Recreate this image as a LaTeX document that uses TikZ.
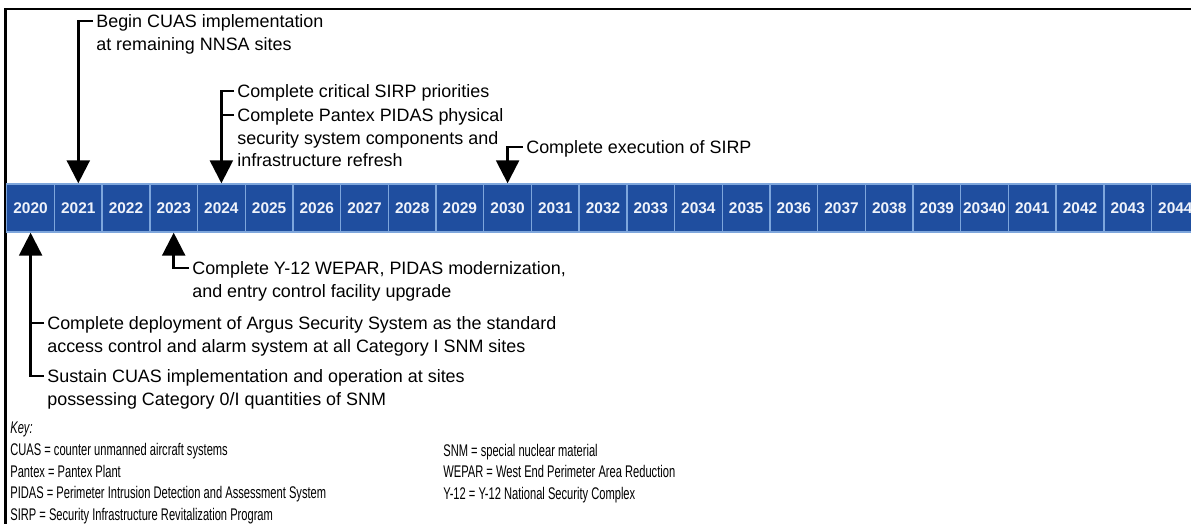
\documentclass[tikz,border=0pt]{standalone}
\usepackage{fontspec}
\setmainfont{Liberation Sans}
\newfontfamily\keyfont[FakeStretch=0.66]{Liberation Sans}
\usetikzlibrary{arrows.meta}
\definecolor{msBand}{HTML}{1F4E9F}
\definecolor{msSep}{HTML}{7EA6DC}
\definecolor{msYear}{HTML}{EEF2FA}
\tikzset{
  ms frame/.style={draw=black, line width=1.7pt},
  ms tick/.style={draw=black, line width=1.4pt},
  ms flow/.style={ms tick, -{Triangle[length=0.46cm, width=0.46cm]}},
  ms note/.style={font=\fontsize{10.2}{12.75}\selectfont, align=left, anchor=north west, inner xsep=1.7pt, inner ysep=0pt},
  ms key/.style={font=\keyfont\fontsize{9.6}{12.4}\selectfont, align=left, anchor=north west, inner sep=0pt},
}

\begin{document}
\begin{tikzpicture}[x=0.02cm, y=-0.02cm,
  yearcell/.style={rectangle, fill=msBand, draw=msSep, line width=0.8pt,
    minimum width=0.954cm, minimum height=0.96cm, inner sep=0pt,
    text=msYear, font=\bfseries\fontsize{8.8}{10}\selectfont}
]
  \useasboundingbox[fill=white] (0,0) rectangle (1191,524);
  \draw[ms frame] (5.5,540) |- (1210,9);

  \foreach \lab [count=\i from 0] in {2020,2021,2022,2023,2024,2025,2026,2027,2028,2029,2030,2031,2032,2033,2034,2035,2036,2037,2038,2039,20340,2041,2042,2043,2044}
    \node[yearcell] (y\lab) at (30.6+\i*47.7, 208) {\lab};

  \node[ms note] (begin) at (93,14.4) {Begin CUAS implementation\\at remaining NNSA sites};
  \node[ms note] (crit) at (234,84.4) {Complete critical SIRP priorities};
  \node[ms note] (pantex) at (234,108.4) {Complete Pantex PIDAS physical\\security system components and\\infrastructure refresh};
  \node[ms note] (exec) at (523,140.4) {Complete execution of SIRP};
  \node[ms note] (wepar) at (189,261.4) {Complete Y-12 WEPAR, PIDAS modernization,\\and entry control facility upgrade};
  \node[ms note] (argus) at (44,316.4) {Complete deployment of Argus Security System as the standard\\access control and alarm system at all Category I SNM sites};
  \node[ms note] (sustain) at (44,369.4) {Sustain CUAS implementation and operation at sites\\possessing Category 0/I quantities of SNM};

  \draw[ms flow] ([yshift=-3.75pt]begin.north west) -| (y2021.north);
  \draw[ms flow] ([yshift=-3.75pt]crit.north west) -| (y2024.north);
  \draw[ms tick] ([yshift=-3.75pt]pantex.north west) -- ([yshift=-3.75pt]pantex.north west -| y2024.north);
  \draw[ms flow] ([yshift=-3.75pt]exec.north west) -| (y2030.north);
  \draw[ms flow] ([yshift=-3.75pt]wepar.north west) -| (y2023.south);
  \draw[ms flow] ([yshift=-3.75pt]sustain.north west) -| (y2020.south);
  \draw[ms tick] ([yshift=-3.75pt]argus.north west) -- ([yshift=-3.75pt]argus.north west -| y2020.south);

  \node[ms key] (keyleft) at (10,421.5) {\textit{Key:}\\CUAS = counter unmanned aircraft systems\\Pantex = Pantex Plant\\PIDAS = Perimeter Intrusion Detection and Assessment System\\SIRP = Security Infrastructure Revitalization Program};
  \node[ms key] (keyright) at (443,443.5) {SNM = special nuclear material\\WEPAR = West End Perimeter Area Reduction\\Y-12 = Y-12 National Security Complex};
\end{tikzpicture}
\end{document}
